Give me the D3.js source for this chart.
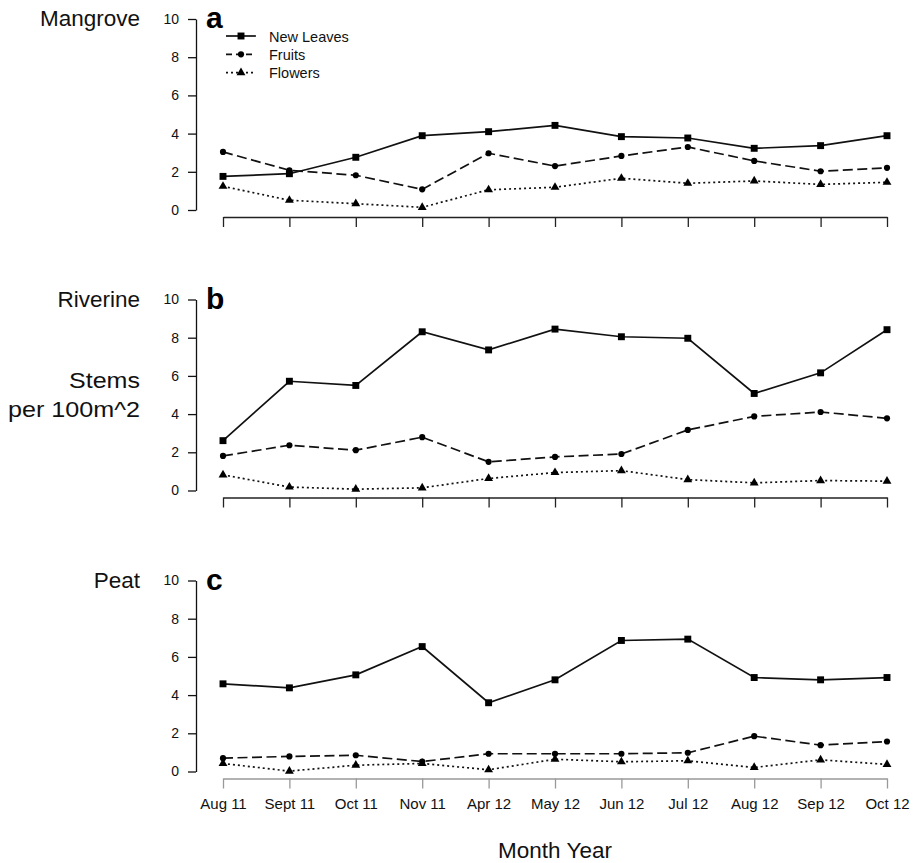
<!DOCTYPE html>
<html>
<head>
<meta charset="utf-8">
<script src="https://cdn.jsdelivr.net/npm/d3@7"></script>
<style>
  body { margin: 0; background: #fff; }
  svg { font-family: "Liberation Sans", Arial, sans-serif; }
</style>
</head>
<body>
<div id="chart"></div>
<script>
const months = ['Aug 11', 'Sept 11', 'Oct 11', 'Nov 11', 'Apr 12', 'May 12', 'Jun 12', 'Jul 12', 'Aug 12', 'Sep 12', 'Oct 12'];
const yTicks = [0, 2, 4, 6, 8, 10];
const seriesNames = ['New Leaves', 'Fruits', 'Flowers'];

const mangroveLeaves = [1.76, 1.90, 2.76, 3.89, 4.10, 4.43, 3.84, 3.77, 3.23, 3.37, 3.89];
const mangroveFruits = [3.04, 2.08, 1.82, 1.08, 2.97, 2.30, 2.83, 3.30, 2.57, 2.03, 2.21];
const mangroveFlowers = [1.24, 0.51, 0.33, 0.14, 1.06, 1.19, 1.66, 1.40, 1.52, 1.34, 1.45];

const riverineLeaves = [2.61, 5.72, 5.50, 8.31, 7.36, 8.45, 8.05, 7.97, 5.08, 6.16, 8.42];
const riverineFruits = [1.81, 2.37, 2.11, 2.79, 1.50, 1.76, 1.91, 3.17, 3.88, 4.11, 3.78];
const riverineFlowers = [0.82, 0.18, 0.07, 0.14, 0.63, 0.94, 1.04, 0.57, 0.40, 0.52, 0.49];

const peatLeaves = [4.59, 4.38, 5.06, 6.54, 3.60, 4.80, 6.86, 6.93, 4.92, 4.80, 4.92];
const peatFruits = [0.70, 0.79, 0.85, 0.52, 0.93, 0.93, 0.93, 0.98, 1.85, 1.38, 1.57];
const peatFlowers = [0.42, 0.02, 0.33, 0.42, 0.09, 0.64, 0.51, 0.56, 0.21, 0.61, 0.37];

const panels = [
  { site: 'Mangrove', letter: 'a', series: [mangroveLeaves, mangroveFruits, mangroveFlowers] },
  { site: 'Riverine', letter: 'b', series: [riverineLeaves, riverineFruits, riverineFlowers] },
  { site: 'Peat', letter: 'c', series: [peatLeaves, peatFruits, peatFlowers] },
];

const width = 914;
const height = 863;
const panelTop = [0, 280.5, 561.5];

const styles = [
  { dash: null, symbol: d3.symbolSquare, size: 48 },
  { dash: '10,4.5', symbol: d3.symbolCircle, size: 30 },
  { dash: '2,3', symbol: d3.symbolTriangle, size: 34 },
];

const svg = d3.select('#chart')
  .append('svg')
  .attr('width', width)
  .attr('height', height);

const x = d3.scalePoint()
  .domain(months)
  .range([223, 887]);

panels.forEach((p, i) => {
  const top = panelTop[i];
  const g = svg.append('g')
    .attr('transform', `translate(0,${top})`);

  const y = d3.scaleLinear()
    .domain([0, 10])
    .range([210, 19]);

  // y axis
  const yAxis = g.append('g')
    .attr('transform', 'translate(196,0)')
    .call(d3.axisLeft(y).tickValues(yTicks).tickSize(8).tickSizeOuter(0).tickPadding(9));
  yAxis.selectAll('path, line').attr('stroke', '#111').attr('stroke-width', 1.3);
  yAxis.selectAll('text').attr('font-size', 14).attr('fill', '#111')
    .attr('font-family', '"Liberation Sans", Arial, sans-serif');

  // x axis
  const xAxis = g.append('g')
    .attr('transform', 'translate(0,217)')
    .call(d3.axisBottom(x).tickSize(10).tickSizeOuter(0).tickPadding(10)
      .tickFormat(i === 2 ? null : () => ''));
  xAxis.selectAll('path, line')
    .attr('stroke', i === 2 ? '#999' : '#222')
    .attr('stroke-width', 1.3);
  xAxis.selectAll('text').attr('font-size', 15).attr('fill', '#111')
    .attr('font-family', '"Liberation Sans", Arial, sans-serif');

  // site name and panel letter
  g.append('text')
    .attr('x', 140)
    .attr('y', 26)
    .attr('text-anchor', 'end')
    .attr('font-size', 22.5)
    .attr('fill', '#111')
    .text(p.site);

  g.append('text')
    .attr('x', 206)
    .attr('y', 28)
    .attr('font-size', 30)
    .attr('font-weight', 'bold')
    .attr('fill', '#000')
    .text(p.letter);

  // lines and markers
  p.series.forEach((values, k) => {
    const line = d3.line()
      .x((d, j) => x(months[j]))
      .y((d) => y(d));

    g.append('path')
      .datum(values)
      .attr('d', line)
      .attr('fill', 'none')
      .attr('stroke', '#111')
      .attr('stroke-width', 1.7)
      .attr('stroke-dasharray', styles[k].dash);

    g.selectAll(`.marker${k}`)
      .data(values)
      .enter()
      .append('path')
      .attr('class', `marker${k}`)
      .attr('d', d3.symbol().type(styles[k].symbol).size(styles[k].size))
      .attr('transform', (d, j) => `translate(${x(months[j])},${y(d)})`)
      .attr('fill', '#000');
  });
});

// legend in panel a
const legend = svg.append('g');
seriesNames.forEach((name, k) => {
  const ly = 36 + k * 18.3;
  legend.append('line')
    .attr('x1', 226)
    .attr('x2', 256)
    .attr('y1', ly)
    .attr('y2', ly)
    .attr('stroke', '#111')
    .attr('stroke-width', 1.7)
    .attr('stroke-dasharray', k === 1 ? '6,4' : styles[k].dash);
  legend.append('path')
    .attr('d', d3.symbol().type(styles[k].symbol).size(styles[k].size))
    .attr('transform', `translate(241,${ly})`)
    .attr('fill', '#000');
  legend.append('text')
    .attr('x', 269)
    .attr('y', ly + 5.5)
    .attr('font-size', 14.5)
    .attr('fill', '#111')
    .text(name);
});

// y axis title
svg.append('text')
  .attr('x', 140)
  .attr('y', 388)
  .attr('text-anchor', 'end')
  .attr('font-size', 22.5)
  .attr('textLength', 71)
  .attr('lengthAdjust', 'spacingAndGlyphs')
  .attr('fill', '#111')
  .text('Stems');

svg.append('text')
  .attr('x', 140)
  .attr('y', 417)
  .attr('text-anchor', 'end')
  .attr('font-size', 22.5)
  .attr('textLength', 132)
  .attr('lengthAdjust', 'spacingAndGlyphs')
  .attr('fill', '#111')
  .text('per 100m^2');

// x axis title
svg.append('text')
  .attr('x', 555)
  .attr('y', 858)
  .attr('text-anchor', 'middle')
  .attr('font-size', 22.5)
  .attr('fill', '#111')
  .text('Month Year');
</script>
</body>
</html>
